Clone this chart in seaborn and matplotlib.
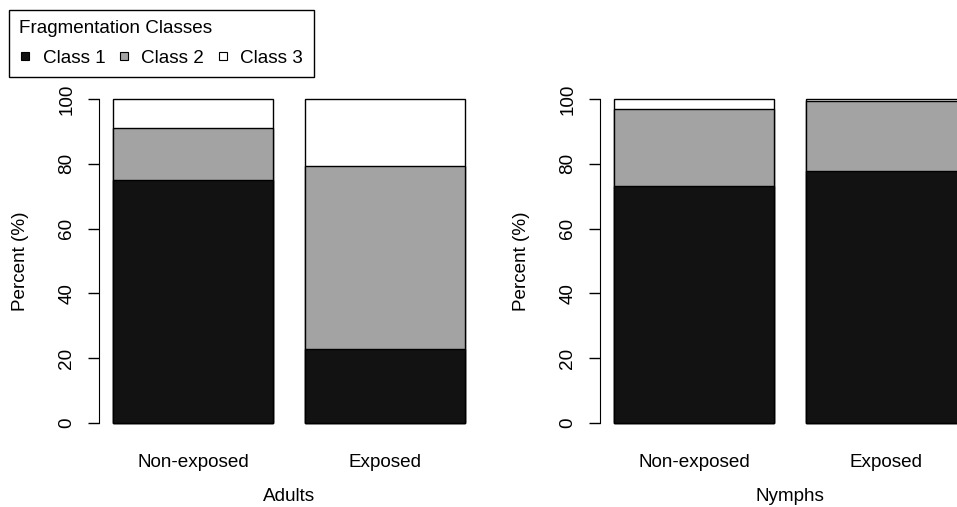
import numpy as np
import pandas as pd
import matplotlib
matplotlib.use("Agg")
import matplotlib.pyplot as plt
from matplotlib.lines import Line2D
import seaborn as sns

# Datos (porcentajes por clase de fragmentación)
exposure = ["Non-exposed", "Exposed"]
classes = ["Class 1", "Class 2", "Class 3"]
adults_class1 = [75.0, 22.8]
adults_class2 = [16.0, 56.5]
adults_class3 = [9.0, 20.7]
nymphs_class1 = [73.1, 77.8]
nymphs_class2 = [23.8, 21.6]
nymphs_class3 = [3.1, 0.6]

colors = ["#121212", "#a3a3a3", "#ffffff"]

sns.set_style("ticks")
plt.rcParams["font.family"] = ["Liberation Sans", "DejaVu Sans"]
plt.rcParams.update({"text.color": "black", "axes.labelcolor": "black",
                     "xtick.color": "black", "ytick.color": "black",
                     "axes.edgecolor": "black"})

FS = 13.6
fig = plt.figure(figsize=(9.57, 5.07), dpi=100)
W, H = 957, 507


def panel(left_px, c1, c2, c3, label):
    ax = fig.add_axes([left_px / W, (H - 436) / H, 380 / W, 350 / H])
    df = pd.DataFrame({"exposure": exposure, "c1": c1, "c2": c2, "c3": c3})
    df["top2"] = df["c1"] + df["c2"]
    df["top3"] = df["top2"] + df["c3"]
    # barras apiladas: se dibuja de arriba hacia abajo
    for col, color in zip(["top3", "top2", "c1"], colors[::-1]):
        sns.barplot(data=df, x="exposure", y=col, color=color, saturation=1,
                    edgecolor="black", linewidth=1.0, width=0.833, ax=ax)
    ax.set_xlim(-0.49, 1.49)
    ax.set_ylim(-4, 104)
    ax.set_yticks([0, 20, 40, 60, 80, 100])
    ax.spines["left"].set_bounds(0, 100)
    for s in ["top", "right", "bottom"]:
        ax.spines[s].set_visible(False)
    ax.tick_params(axis="y", length=8, width=1, pad=9, labelsize=FS, labelrotation=90)
    for t in ax.get_yticklabels():
        t.set_va("center")
    ax.tick_params(axis="x", length=0, pad=13, labelsize=FS)
    ax.set_ylabel("Percent (%)", fontsize=FS, labelpad=21)
    ax.set_xlabel(label, fontsize=FS, labelpad=12)
    return ax


panel(99, adults_class1, adults_class2, adults_class3, "Adults")
panel(600, nymphs_class1, nymphs_class2, nymphs_class3, "Nymphs")

handles = [Line2D([], [], marker="s", linestyle="none", markersize=6,
                  markerfacecolor=c, markeredgecolor="black", markeredgewidth=0.8)
           for c in colors]
leg = fig.legend(handles, classes, title="Fragmentation Classes", ncol=3,
                 loc="upper left", bbox_to_anchor=(9 / W, 1 - 10 / H),
                 fontsize=FS, title_fontsize=FS, fancybox=False, framealpha=1,
                 edgecolor="black", handlelength=0.6, handletextpad=0.63,
                 columnspacing=0.68, borderpad=0.55, labelspacing=0.66,
                 borderaxespad=0)
leg._legend_box.align = "left"
leg.get_frame().set_linewidth(1.0)

fig.savefig("out.png", dpi=100)
